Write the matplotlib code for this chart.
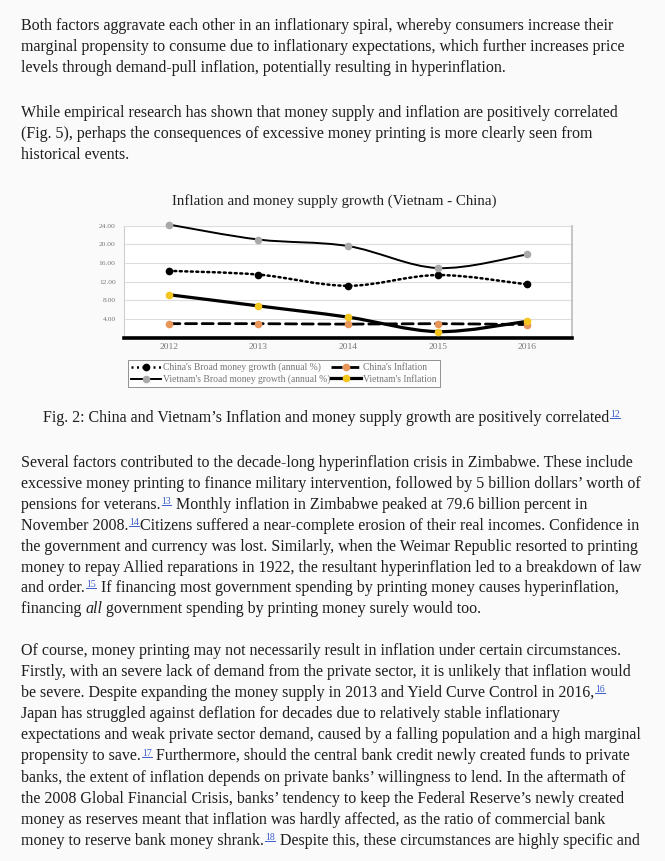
import matplotlib
matplotlib.use("Agg")
import matplotlib.pyplot as plt
import numpy as np
from matplotlib.path import Path
from matplotlib.patches import PathPatch
from matplotlib.lines import Line2D

# chart data
years = [2012, 2013, 2014, 2015, 2016]
china_m2 = [14.3, 13.5, 11.1, 13.4, 11.4]
china_inf = [3.0, 3.0, 2.9, 3.0, 2.8]
vn_m2 = [24.2, 21.0, 19.6, 14.9, 17.8]
vn_inf = [9.2, 6.8, 4.4, 1.3, 3.5]
y_ticks = [4, 8, 12, 16, 20, 24]

chart_title = "Inflation and money supply growth (Vietnam - China)"
labels = ["China's Broad money growth (annual %)", "China's Inflation",
          "Vietnam's Broad money growth (annual %)", "Vietnam's Inflation"]

W, H = 665, 861
BG = "#fafafa"
TXT = "#1e1e1e"
LINK = "#3a5ccc"
FS = 11.5

fig = plt.figure(figsize=(W / 100, H / 100), dpi=100, facecolor=BG)
renderer = fig.canvas.get_renderer()


def fx(x):
    return x / W


def fy(y):
    return 1 - y / H


def draw_line(x, y, parts, size=FS):
    # y is the baseline in pixels from the top
    for txt, kind in parts:
        if kind == "sup":
            t = fig.text(fx(x + 1), fy(y - 5), txt, fontsize=7, color=LINK,
                         family="Liberation Serif", va="baseline")
            bb = t.get_window_extent(renderer)
            fig.add_artist(Line2D([bb.x0 / W, bb.x1 / W],
                                  [fy(y - 4), fy(y - 4)], color=LINK, lw=0.7))
            x = bb.x1 + 1
        else:
            style = "italic" if kind == "it" else "normal"
            t = fig.text(fx(x), fy(y), txt, fontsize=size, color=TXT,
                         family="Liberation Serif", style=style, va="baseline")
            x = t.get_window_extent(renderer).x1


def paragraph(y0, lines, step=21.1):
    for i, parts in enumerate(lines):
        draw_line(21, y0 + i * step, parts)


p1 = [
    [("Both factors aggravate each other in an inflationary spiral, whereby consumers increase their", "")],
    [("marginal propensity to consume due to inflationary expectations, which further increases price", "")],
    [("levels through demand-pull inflation, potentially resulting in hyperinflation.", "")],
]
p2 = [
    [("While empirical research has shown that money supply and inflation are positively correlated", "")],
    [("(Fig. 5), perhaps the consequences of excessive money printing is more clearly seen from", "")],
    [("historical events.", "")],
]
p3 = [
    [("Several factors contributed to the decade-long hyperinflation crisis in Zimbabwe. These include", "")],
    [("excessive money printing to finance military intervention, followed by 5 billion dollars\u2019 worth of", "")],
    [("pensions for veterans.", ""), ("13", "sup"), (" Monthly inflation in Zimbabwe peaked at 79.6 billion percent in", "")],
    [("November 2008.", ""), ("14", "sup"), ("Citizens suffered a near-complete erosion of their real incomes. Confidence in", "")],
    [("the government and currency was lost. Similarly, when the Weimar Republic resorted to printing", "")],
    [("money to repay Allied reparations in 1922, the resultant hyperinflation led to a breakdown of law", "")],
    [("and order.", ""), ("15", "sup"), (" If financing most government spending by printing money causes hyperinflation,", "")],
    [("financing ", ""), ("all", "it"), (" government spending by printing money surely would too.", "")],
]
p4 = [
    [("Of course, money printing may not necessarily result in inflation under certain circumstances.", "")],
    [("Firstly, with an severe lack of demand from the private sector, it is unlikely that inflation would", "")],
    [("be severe. Despite expanding the money supply in 2013 and Yield Curve Control in 2016,", ""), ("16", "sup")],
    [("Japan has struggled against deflation for decades due to relatively stable inflationary", "")],
    [("expectations and weak private sector demand, caused by a falling population and a high marginal", "")],
    [("propensity to save.", ""), ("17", "sup"), (" Furthermore, should the central bank credit newly created funds to private", "")],
    [("banks, the extent of inflation depends on private banks\u2019 willingness to lend. In the aftermath of", "")],
    [("the 2008 Global Financial Crisis, banks\u2019 tendency to keep the Federal Reserve\u2019s newly created", "")],
    [("money as reserves meant that inflation was hardly affected, as the ratio of commercial bank", "")],
    [("money to reserve bank money shrank.", ""), ("18", "sup"), (" Despite this, these circumstances are highly specific and", "")],
]

paragraph(30, p1)
paragraph(117, p2)
paragraph(467, p3, step=20.9)
paragraph(655, p4)

# caption, centred
cap_text = "Fig. 2: China and Vietnam\u2019s Inflation and money supply growth are positively correlated"
cap = fig.text(0, 0, cap_text, fontsize=FS, family="Liberation Serif", color=TXT)
cw = cap.get_window_extent(renderer).width
cap.remove()
draw_line(333 - (cw + 14) / 2, 422, [(cap_text, ""), ("12", "sup")])

# ---- chart ----
ax = fig.add_axes([fx(124), fy(337.7), (572 - 124) / W, (337.7 - 225.5) / H])
ax.set_facecolor("white")


def smooth(xs, ys):
    # Excel-like smoothed line as cubic Bezier segments
    pts = np.column_stack([xs, ys]).astype(float)
    ext = np.vstack([pts[0], pts, pts[-1]])
    verts = [pts[0]]
    codes = [Path.MOVETO]
    for i in range(len(pts) - 1):
        p0, p1, p2, p3 = ext[i], ext[i + 1], ext[i + 2], ext[i + 3]
        c1 = p1 + (p2 - p0) / 6
        c2 = p2 - (p3 - p1) / 6
        verts += [c1, c2, p2]
        codes += [Path.CURVE4] * 3
    return Path(verts, codes)


series = [
    (china_m2, dict(color="black", lw=1.8, ls=(0, (0.8, 1.4))), "black"),
    (china_inf, dict(color="black", lw=2.0, ls=(0, (4, 2))), "#e8955a"),
    (vn_m2, dict(color="black", lw=1.4, ls="-"), "#a9a9a9"),
    (vn_inf, dict(color="black", lw=2.3, ls="-"), "#f4c51c"),
]
handles = []
for vals, st, mc in series:
    patch = PathPatch(smooth(years, vals), fill=False, edgecolor=st["color"],
                      lw=st["lw"], ls=st["ls"], clip_on=False, zorder=3,
                      capstyle="round")
    ax.add_patch(patch)
    ax.plot(years, vals, ls="none", marker="o", ms=4.5, color=mc, zorder=4,
            clip_on=False)
    handles.append(Line2D([], [], color="black", lw=st["lw"], ls=st["ls"],
                          marker="o", ms=4.5, mfc=mc, mec=mc))

ax.set_xlim(2011.5, 2016.5)
ax.set_ylim(0, 24)
ax.set_xticks(years)
ax.set_xticklabels([str(y) for y in years], fontsize=6.8, color="#777777",
                   family="Liberation Serif")
ax.set_yticks(y_ticks)
ax.set_yticklabels(["%.2f" % v for v in y_ticks], fontsize=5.4,
                   color="#777777", family="Liberation Serif")
ax.tick_params(length=0, pad=6)
ax.tick_params(axis="x", pad=4)
ax.grid(axis="y", color="#dddddd", lw=0.8)
ax.set_axisbelow(True)
ax.spines["left"].set_color("#cfcfcf")
ax.spines["left"].set_linewidth(0.8)
ax.spines["top"].set_visible(False)
ax.spines["right"].set_color("#bbbbbb")
ax.spines["right"].set_linewidth(1.2)
ax.spines["bottom"].set_color("black")
ax.spines["bottom"].set_linewidth(2.6)

fig.text(fx(334), fy(201), chart_title, fontsize=10.8, color="#222222",
         family="Liberation Serif", ha="center", va="center")

# legend rows: China on top, Vietnam below (matplotlib fills columns first)
order = [0, 2, 1, 3]
leg = fig.legend([handles[i] for i in order], [labels[i] for i in order],
                 loc="upper left", bbox_to_anchor=(fx(128), fy(360)),
                 bbox_transform=fig.transFigure, ncol=2,
                 frameon=True, fancybox=False, edgecolor="#777777",
                 borderaxespad=0, handlelength=3.1, handletextpad=0.25,
                 columnspacing=0.1, labelspacing=0.25, borderpad=0.3,
                 prop={"family": "Liberation Serif", "size": 6.9})
leg.get_frame().set_linewidth(0.7)
for t in leg.get_texts():
    t.set_color("#777777")

fig.savefig("out.png", dpi=100, facecolor=BG)
